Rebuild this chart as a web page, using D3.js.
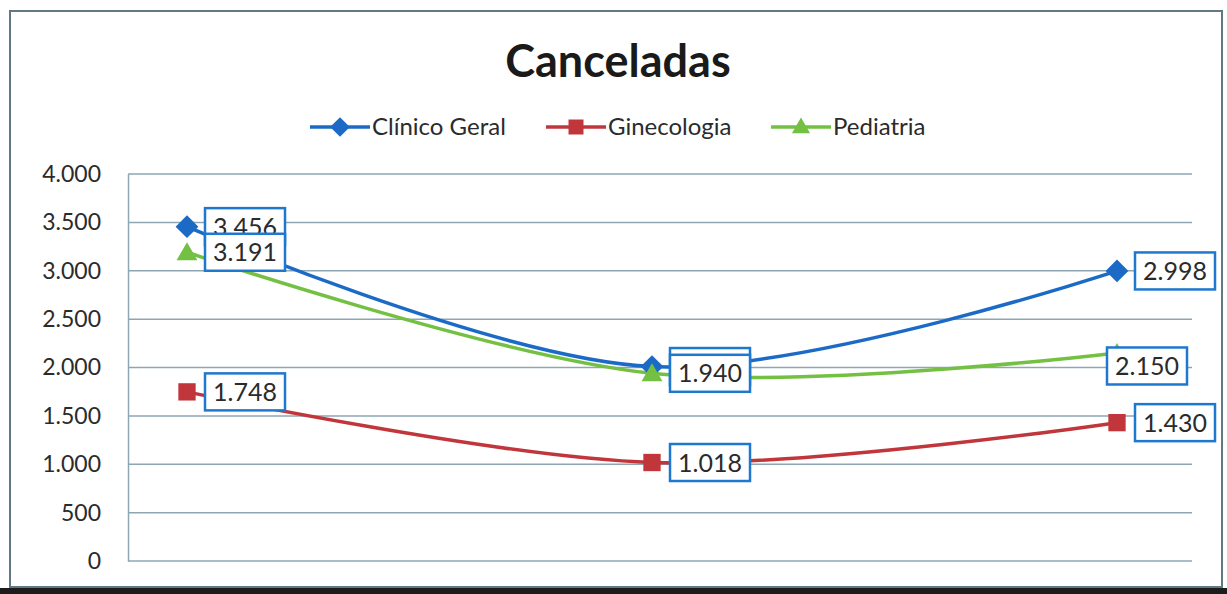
<!DOCTYPE html>
<html>
<head>
<meta charset="utf-8">
<script src="https://cdn.jsdelivr.net/npm/d3@7"></script>
<style>
  body { margin: 0; background: #fff; }
  text { font-family: Lato, "Open Sans", sans-serif; }
</style>
</head>
<body>
<div id="chart"></div>
<script>
var svgWidth = 1227;
var svgHeight = 594;

// data
var categories = ["1", "2", "3"];
var seriesNames = ["Clínico Geral", "Ginecologia", "Pediatria"];
var clinicoGeral = [3456, 2010, 2998];
var ginecologia = [1748, 1018, 1430];
var pediatria = [3191, 1940, 2150];
var yTicks = [0, 500, 1000, 1500, 2000, 2500, 3000, 3500, 4000];

var colors = ["#1b6bc6", "#c1363b", "#74c043"];

// excel style diamond: a square turned 45 degrees
var excelDiamond = {
  draw: function(ctx, size) {
    var r = Math.sqrt(size / 2);
    ctx.moveTo(0, -r);
    ctx.lineTo(r, 0);
    ctx.lineTo(0, r);
    ctx.lineTo(-r, 0);
    ctx.closePath();
  }
};
var symbols = [excelDiamond, d3.symbolSquare, d3.symbolTriangle];
var symbolSize = [260, 300, 190];

var series = [clinicoGeral, ginecologia, pediatria].map(function(values, i) {
  return {
    name: seriesNames[i],
    color: colors[i],
    symbol: symbols[i],
    values: values.map(function(v, j) { return {cat: categories[j], value: v, s: i, j: j}; })
  };
});

var fmt = d3.formatLocale({decimal: ",", thousands: ".", grouping: [3]}).format(",d");

var svg = d3.select("#chart")
  .append("svg")
    .attr("width", svgWidth)
    .attr("height", svgHeight);

// outer frame
svg.append("rect")
  .attr("x", 10).attr("y", 11)
  .attr("width", 1212).attr("height", 576)
  .attr("fill", "#fff")
  .attr("stroke", "#5f7a84")
  .attr("stroke-width", 2);
svg.append("rect")
  .attr("x", 0).attr("y", 588)
  .attr("width", svgWidth).attr("height", 6)
  .attr("fill", "#1c1c1c");

var plot = {left: 128, right: 1192, top: 174, bottom: 561};

var x = d3.scalePoint()
  .domain(categories)
  .range([187, 1117]);

var y = d3.scaleLinear()
  .domain([0, 4000])
  .range([plot.bottom, plot.top]);

// gridlines
svg.append("g")
  .selectAll("line")
  .data(yTicks)
  .enter()
  .append("line")
    .attr("x1", plot.left)
    .attr("x2", plot.right)
    .attr("y1", d => y(d))
    .attr("y2", d => y(d))
    .attr("stroke", "#8ea6b2")
    .attr("stroke-width", 1.5);

// y axis
var yAxis = d3.axisLeft(y).tickValues(yTicks).tickSize(0).tickPadding(27).tickFormat(fmt);
var yG = svg.append("g")
  .attr("transform", `translate(${plot.left}, 0)`)
  .call(yAxis);
yG.select(".domain").attr("stroke", "#8ea6b2").attr("stroke-width", 1.5);
yG.selectAll("text")
  .attr("font-size", 23)
  .attr("fill", "#2b2b2b")
  .style("font-family", "Lato, 'Open Sans', sans-serif");

// lines
var line = d3.line()
  .x(d => x(d.cat))
  .y(d => y(d.value))
  .curve(d3.curveCatmullRom.alpha(0.5));

svg.append("g")
  .selectAll("path")
  .data(series)
  .enter()
  .append("path")
    .attr("d", d => line(d.values))
    .attr("fill", "none")
    .attr("stroke", d => d.color)
    .attr("stroke-width", 3.5);

// markers
series.forEach(function(s, i) {
  svg.append("g")
    .selectAll("path")
    .data(s.values)
    .enter()
    .append("path")
      .attr("transform", d => `translate(${x(d.cat)}, ${y(d.value) + (i === 2 ? 2 : 0)})`)
      .attr("d", d3.symbol().type(s.symbol).size(symbolSize[i]))
      .attr("fill", s.color);
});

// data labels; the last Pediatria label was moved by hand in the original
var labelW = 80, labelH = 37;
function labelPos(d) {
  if (d.s === 2 && d.j === 2) return [x(d.cat) - 10, y(d.value) - labelH / 2 + 13];
  return [x(d.cat) + 18, y(d.value) - labelH / 2];
}
series.forEach(function(s) {
  var lg = svg.append("g")
    .selectAll("g")
    .data(s.values)
    .enter()
    .append("g")
      .attr("transform", d => `translate(${labelPos(d)[0]}, ${labelPos(d)[1]})`);
  lg.append("rect")
    .attr("width", labelW)
    .attr("height", labelH)
    .attr("fill", "#fff")
    .attr("stroke", "#1f78cf")
    .attr("stroke-width", 2.5);
  lg.append("text")
    .attr("x", labelW / 2)
    .attr("y", labelH / 2 + 9)
    .attr("text-anchor", "middle")
    .attr("font-size", 25)
    .attr("fill", "#2b2b2b")
    .text(d => fmt(d.value));
});

// title
svg.append("text")
  .attr("x", 618)
  .attr("y", 77)
  .attr("text-anchor", "middle")
  .attr("font-size", 45)
  .attr("font-weight", "bold")
  .attr("fill", "#1a1a1a")
  .text("Canceladas");

// legend
var legendX = [310, 546, 771];
var legend = svg.append("g")
  .selectAll("g")
  .data(series)
  .enter()
  .append("g")
    .attr("transform", (d, i) => `translate(${legendX[i]}, 127)`);
legend.append("line")
  .attr("x1", 0).attr("x2", 60)
  .attr("stroke", d => d.color)
  .attr("stroke-width", 3.5);
legend.append("path")
  .attr("transform", (d, i) => `translate(30, ${i === 2 ? 1 : 0})`)
  .attr("d", (d, i) => d3.symbol().type(d.symbol).size(symbolSize[i] * 0.75)())
  .attr("fill", d => d.color);
legend.append("text")
  .attr("x", 62)
  .attr("y", 8)
  .attr("font-size", 24)
  .attr("fill", "#2b2b2b")
  .text(d => d.name);
</script>
</body>
</html>
